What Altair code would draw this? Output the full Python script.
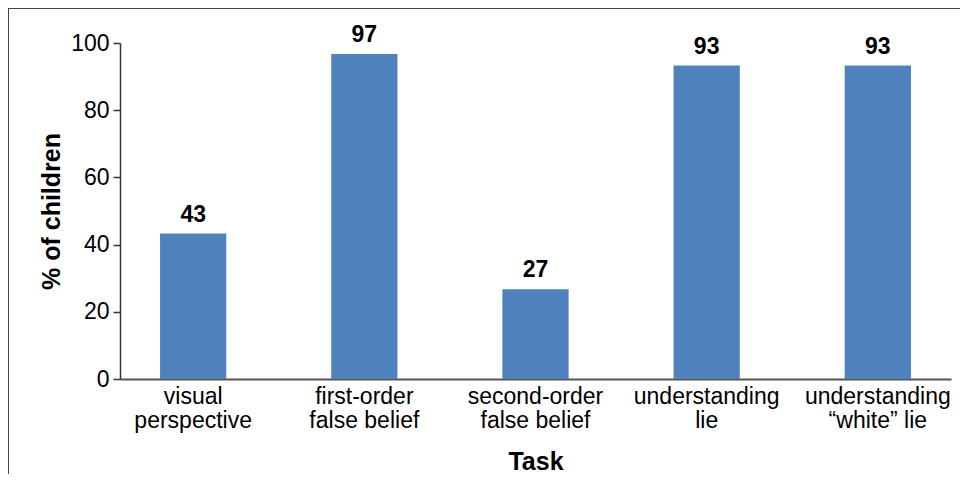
import altair as alt
import pandas as pd

tasks = ["visual\nperspective", "first-order\nfalse belief", "second-order\nfalse belief",
         "understanding\nlie", "understanding\n\u201cwhite\u201d lie"]
percent = [43.3, 96.7, 26.7, 93.3, 93.3]
y_ticks = [0, 10, 20, 30, 40, 50, 60, 70, 80, 90, 100]

df = pd.DataFrame({"task": tasks, "pct": percent})
FONT = "Liberation Sans"

x_enc = alt.X("task:N", sort=tasks, title="Task",
              scale=alt.Scale(paddingInner=0.613, paddingOuter=0.234),
              axis=alt.Axis(labelAngle=0, labelExpr="split(datum.label, '\\n')",
                            labelFontSize=23, labelLineHeight=24, labelColor="#000",
                            labelPadding=6, ticks=False, domainColor="#555", domainWidth=2,
                            titleFontSize=25, titleFontWeight="bold", titleColor="#000",
                            titlePadding=17))
y_enc = alt.Y("pct:Q", title="% of children",
              scale=alt.Scale(domain=[0, 100], nice=False),
              axis=alt.Axis(values=y_ticks, labelExpr="datum.value % 20 == 0 ? datum.label : ''",
                            labelFontSize=23, labelColor="#000", tickSize=7, tickColor="#333",
                            tickWidth=1.5, domainColor="#333", domainWidth=1.5, grid=False,
                            labelPadding=4, titleFontSize=25, titleFontWeight="bold",
                            titleColor="#000", titlePadding=6))

bars = alt.Chart(df).mark_bar(color="#4F81BD").encode(x=x_enc, y=y_enc)
labels = alt.Chart(df).mark_text(fontSize=23, fontWeight="bold", baseline="alphabetic",
                                 dy=-12, color="#000", font=FONT).encode(
    x=alt.X("task:N", sort=tasks), y="pct:Q", text=alt.Text("pct:Q", format=".0f"))

frame_top = alt.Chart(df).mark_rule(color="#444", strokeWidth=1.5).encode(
    x=alt.value(-112), x2=alt.value(900), y=alt.value(-35))
frame_left = alt.Chart(df).mark_rule(color="#444", strokeWidth=1.5).encode(
    x=alt.value(-112), y=alt.value(-35), y2=alt.value(600))

chart = alt.layer(bars, labels, frame_top, frame_left).properties(
    width=831, height=336,
    autosize=alt.AutoSizeParams(type="none"),
    padding={"left": 112, "top": 35, "right": 9, "bottom": 95},
).configure(font=FONT).configure_view(stroke=None)

chart.save("out.html", embed_options={"renderer": "svg", "actions": False})
